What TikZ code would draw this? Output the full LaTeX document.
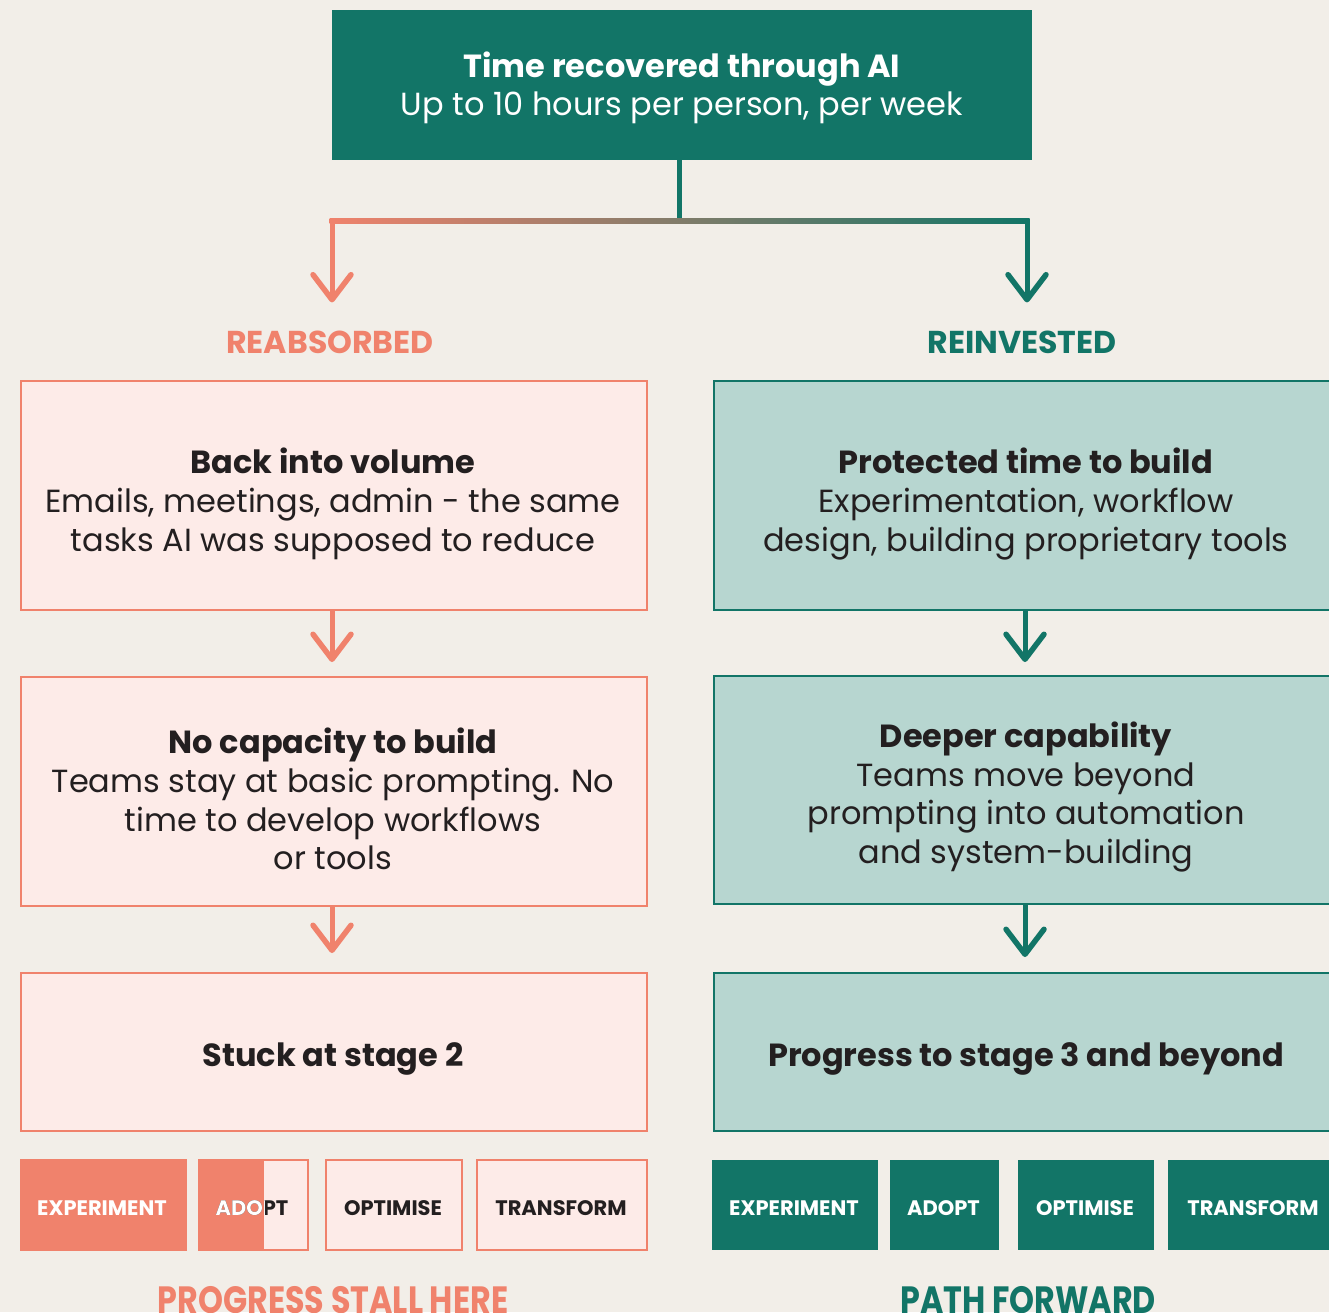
\documentclass[tikz,border=0pt]{standalone}
\usepackage{fontspec}
\setmainfont{Poppins}
\usetikzlibrary{arrows.meta,calc}
\definecolor{bg}{HTML}{F2EEE8}
\definecolor{tealc}{HTML}{127567}
\definecolor{salm}{HTML}{F0826C}
\definecolor{pinkf}{HTML}{FDEBE8}
\definecolor{tealf}{HTML}{B7D6D0}
\definecolor{ink}{HTML}{231F20}
\begin{document}
\begin{tikzpicture}[x=1pt,y=-1pt,
  pbox/.style={draw=salm, fill=pinkf, line width=2pt, minimum width=626pt, inner sep=0pt, anchor=north west},
  tbox/.style={draw=tealc, fill=tealf, line width=2pt, minimum width=626pt, inner sep=0pt, anchor=north west},
  bodytext/.style={text=ink, align=center, inner sep=0pt, font=\fontsize{32}{38.7}\selectfont},
  headtext/.style={align=center, inner sep=0pt, font=\bfseries\fontsize{31.6}{31.6}\selectfont},
  stagetext/.style={inner sep=0pt, font=\bfseries\fontsize{21}{21}\selectfont},
  foottext/.style={inner sep=0pt, font=\bfseries\fontsize{38}{38}\selectfont},
  barb/.style={-{Straight Barb[length=25pt,width=38pt,line width=5.5pt,round]}, line width=5pt},
  arrL/.style={barb, draw=salm},
  arrT/.style={barb, draw=tealc},
  stagebox/.style={minimum height=90pt, inner sep=0pt, anchor=north west, line width=1.5pt},
]
\useasboundingbox (0,0) rectangle (1329,1312);
\fill[bg] (0,0) rectangle (1329,1312);

% top box
\node[fill=tealc, minimum width=700pt, minimum height=150pt, inner sep=0pt, anchor=north west] (top) at (332,10) {};
\node[text=white, align=center, inner sep=0pt, font=\fontsize{32}{38.5}\selectfont] (toptext) at (682,88)
  {\textbf{Time recovered through AI}\\Up to 10 hours per person, per week};

% split connector
\coordinate (split) at (679,221);
\coordinate (splitL) at (332,221);
\coordinate (splitR) at (1027,221);
\draw[tealc, line width=5pt] (top.south -| split) -- (split);
\shade[left color=salm, right color=tealc] (329.5,218.5) rectangle (1029.5,223.5);

% branch labels
\node[headtext, text=salm] (reab) at (330,342) {REABSORBED};
\node[headtext, text=tealc] (rein) at (1022,342) {REINVESTED};
\draw[arrL, shorten >=28pt] ($(splitL)+(0,-2.5)$) -- (splitL |- reab.north);
\draw[arrT, shorten >=28pt] ($(splitR)+(0,-2.5)$) -- (splitR |- rein.north);

% left column
\node[pbox, minimum height=229pt] (l1) at (20,380) {};
\node[pbox, minimum height=229pt] (l2) at (20,676) {};
\node[pbox, minimum height=158pt] (l3) at (20,972) {};
\node[bodytext] (l1t) at (333,504) {\textbf{Back into volume}\\Emails, meetings, admin - the same\\tasks AI was supposed to reduce};
\node[bodytext] (l2t) at (333,799) {\textbf{No capacity to build}\\Teams stay at basic prompting. No\\time to develop workflows\\or tools};
\node[bodytext] (l3t) at (333,1059) {\textbf{Stuck at stage 2}};
\draw[arrL, shorten >=14pt] (l1.south -| 332,0) -- (l2.north -| 332,0);
\draw[arrL, shorten >=19pt] (l2.south -| 332,0) -- (l3.north -| 332,0);

% right column
\node[tbox, minimum height=229pt] (r1) at (713,380) {};
\node[tbox, minimum height=228pt] (r2) at (713,675) {};
\node[tbox, minimum height=158pt] (r3) at (713,972) {};
\node[bodytext] (r1t) at (1026,504) {\textbf{Protected time to build}\\Experimentation, workflow\\design, building proprietary tools};
\node[bodytext] (r2t) at (1026,797) {\textbf{Deeper capability}\\Teams move beyond\\prompting into automation\\and system-building};
\node[bodytext] (r3t) at (1026,1059) {\textbf{Progress to stage 3 and beyond}};
\draw[arrT, shorten >=13pt] (r1.south -| 1025,0) -- (r2.north -| 1025,0);
\draw[arrT, shorten >=15pt] (r2.south -| 1025,0) -- (r3.north -| 1025,0);

% left stages
\node[stagebox, fill=salm, draw=salm, minimum width=165pt] (ls1) at (20,1159) {};
\node[stagetext, text=white] (ls1t) at (102,1208) {EXPERIMENT};
\node[stagebox, fill=pinkf, draw=salm, minimum width=109pt] (ls2) at (198,1159) {};
\fill[salm] (ls2.north west) rectangle (264,1249);
\node[stagetext, text=ink] (ls2t) at (252,1208) {ADOPT};
\begin{scope}
  \clip (ls2.north west) rectangle (264,1249);
  \node[stagetext, text=white] (ls2w) at (252,1208) {ADOPT};
\end{scope}
\node[stagebox, fill=pinkf, draw=salm, minimum width=136pt] (ls3) at (325,1159) {};
\node[stagetext, text=ink] (ls3t) at (393,1208) {OPTIMISE};
\node[stagebox, fill=pinkf, draw=salm, minimum width=170pt] (ls4) at (476,1159) {};
\node[stagetext, text=ink] (ls4t) at (561,1208) {TRANSFORM};

% right stages
\node[stagebox, fill=tealc, minimum width=166pt] (rs1) at (711,1159) {};
\node[stagetext, text=white] (rs1t) at (794,1208) {EXPERIMENT};
\node[stagebox, fill=tealc, minimum width=109pt] (rs2) at (889,1159) {};
\node[stagetext, text=white] (rs2t) at (943.5,1208) {ADOPT};
\node[stagebox, fill=tealc, minimum width=136pt] (rs3) at (1017,1159) {};
\node[stagetext, text=white] (rs3t) at (1085,1208) {OPTIMISE};
\node[stagebox, fill=tealc, minimum width=172pt] (rs4) at (1167,1159) {};
\node[stagetext, text=white] (rs4t) at (1253,1208) {TRANSFORM};

% footers
\node[foottext, text=salm, anchor=north] (lfoot) at (333,1286) {\scalebox{0.836}[1]{PROGRESS STALL HERE}};
\node[foottext, text=tealc, anchor=north] (rfoot) at (1028,1286) {\scalebox{0.836}[1]{PATH FORWARD}};
\end{tikzpicture}
\end{document}
